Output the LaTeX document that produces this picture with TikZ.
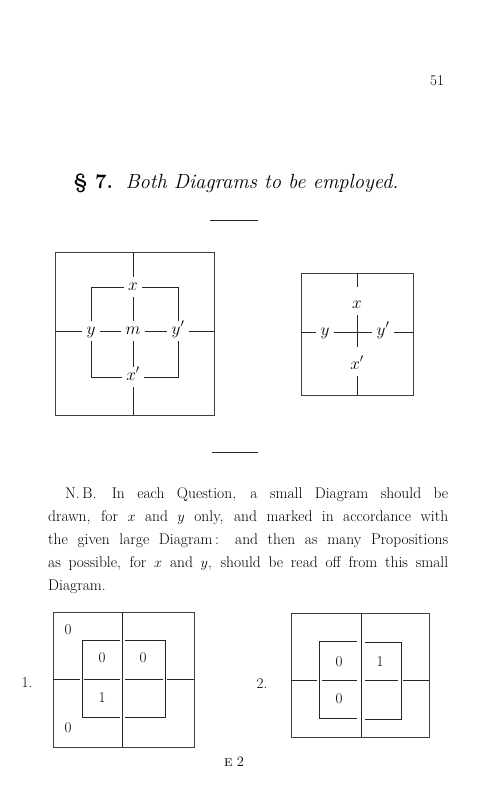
\documentclass[tikz,border=0pt]{standalone}
\usetikzlibrary{positioning}

\begin{document}
\begin{tikzpicture}[x=1pt, y=-1pt,
    lbl/.style={inner xsep=4pt, inner ysep=5pt, text height=8pt, text depth=2pt, font=\fontsize{18}{18}\selectfont},
    num/.style={inner sep=1pt, font=\fontsize{15}{15}\selectfont},
    box/.style={draw=black!75, line width=0.7pt},
    line/.style={black!85, line width=0.8pt},
    bodyline/.style={anchor=base west, inner sep=0pt, font=\fontsize{15.5}{23}\selectfont}
  ]
  \useasboundingbox (0,0) rectangle (490,800);

  % page head
  \node[num, font=\fontsize{15}{15}\selectfont] (pageno) at (437,81) {51};
  \node[anchor=base, inner sep=0pt, font=\fontsize{20.5}{21}\selectfont] (title) at (236,188)
    {\textbf{\S\ 7.}\ \ \textit{Both Diagrams to be employed.}};
  \draw[line] (210,220) -- (258,220);

  % large diagram
  \draw[box] (55,252) rectangle (214,415);
  \node[lbl] (x) at (133,287) {$x$};
  \node[lbl] (m) at (133,331) {$m$};
  \node[lbl] (y) at (91,331) {$y$};
  \node[lbl] (yp) at (178,331) {$y'$};
  \node[lbl] (xp) at (133,377) {$x'$};
  \coordinate (xN) at (133,252);
  \coordinate (xS) at (133,415);
  \coordinate (yW) at (55,331);
  \coordinate (yE) at (214,331);
  \draw[line] (xN) -- (x) -- (m) -- (xp) -- (xS);
  \draw[line] (yW) -- (y) -- (m) -- (yp) -- (yE);
  \draw[line] (x) -| (y);
  \draw[line] (x) -| (yp);
  \draw[line] (xp) -| (y);
  \draw[line] (xp) -| (yp);

  % small diagram
  \draw[box] (301,273) rectangle (413,395);
  \node[lbl] (rx) at (357,305) {$x$};
  \node[lbl] (rxp) at (357,366) {$x'$};
  \node[lbl] (ry) at (325,332) {$y$};
  \node[lbl] (ryp) at (383,332) {$y'$};
  \coordinate (rN) at (357,273);
  \coordinate (rS) at (357,395);
  \coordinate (rW) at (301,332);
  \coordinate (rE) at (413,332);
  \draw[line, shorten >=8pt] (rN) -- (rx);
  \draw[line, shorten >=9pt] (rx) -- (rxp);
  \draw[line] (rxp) -- (rS);
  \draw[line] (rW) -- (ry) -- (ryp) -- (rE);

  \draw[line] (212,452) -- (258,452);

  % N.B. paragraph
  \node[bodyline] (nb1) at (48,498) {\makebox[400pt][s]{\hspace{17pt}N.\,B.\quad In each Question, a small Diagram should be}};
  \node[bodyline] (nb2) at (48,521) {\makebox[400pt][s]{drawn, for $x$ and $y$ only, and marked in accordance with}};
  \node[bodyline] (nb3) at (48,544) {\makebox[400pt][s]{the given large Diagram\,: and then as many Propositions}};
  \node[bodyline] (nb4) at (48,567) {\makebox[400pt][s]{as possible, for $x$ and $y$, should be read off from this small}};
  \node[bodyline] (nb5) at (48,590) {Diagram.};

  % question 1
  \node[num] (q1) at (27,683) {1.};
  \draw[box] (53,612) rectangle (194,747);
  \draw[line] (122,612) -- (122,747);
  \draw[line] (53,679) -- (80,679) (84,679) -- (120,679) (125,679) -- (163,679) (167,679) -- (194,679);
  \draw[line] (120,640) -| (82,717) -- (120,717);
  \draw[line] (125,640) -| (165,717) -- (125,717);
  \node[num] (q1a) at (68,630) {0};
  \node[num] (q1b) at (102,658) {0};
  \node[num] (q1c) at (143,658) {0};
  \node[num] (q1d) at (102,698) {1};
  \node[num] (q1e) at (68,728) {0};

  % question 2
  \node[num] (q2) at (262,684) {2.};
  \draw[box] (291,613) rectangle (429,737);
  \draw[line] (361,613) -- (361,737);
  \draw[line] (291,680) -- (317,680) (322,680) -- (357,680) (365,680) -- (398,680) (403,680) -- (429,680);
  \draw[line] (357,641) -| (319,718) -- (357,718);
  \draw[line] (365,642) -| (401,719) -- (365,719);
  \node[num] (q2a) at (339,662) {0};
  \node[num] (q2b) at (380,662) {1};
  \node[num] (q2c) at (339,699) {0};

  % signature
  \node[num] (sig) at (234,762) {\textsc{e}\ $2$};
\end{tikzpicture}
\end{document}
